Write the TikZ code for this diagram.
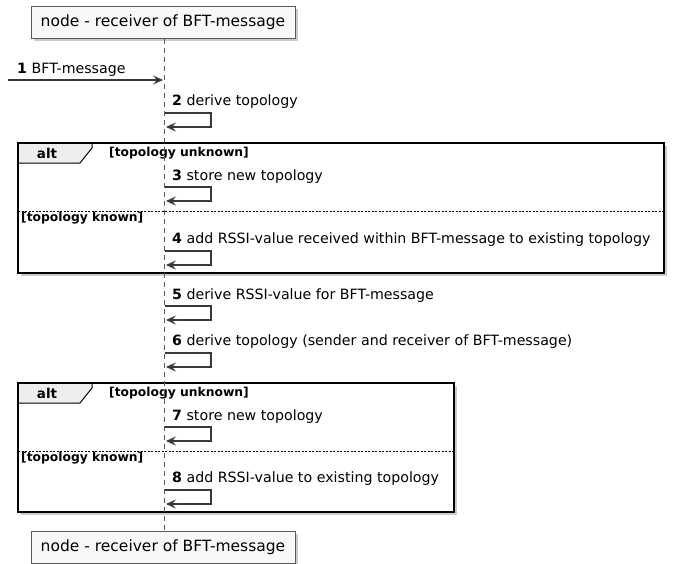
\documentclass[tikz,border=0pt]{standalone}
\usepackage{fontspec}
\setmainfont{DejaVu Sans}
\usetikzlibrary{arrows.meta,shadows}
\definecolor{arrowgray}{HTML}{383838}
\definecolor{boxgray}{HTML}{5A5A5A}
\definecolor{boxfill}{HTML}{F8F8F8}
\definecolor{tabfill}{HTML}{EEEEEE}
\begin{document}
\begin{tikzpicture}[x=1pt,y=-1pt,
  partbox/.style={draw=boxgray, fill=boxfill, line width=1pt, minimum width=264pt, minimum height=32pt, inner sep=0pt,
    font=\fontsize{15.5}{17}\selectfont,
    drop shadow={shadow xshift=3pt, shadow yshift=-3pt, fill=black!40, opacity=0.5}},
  frameback/.style={fill=white,
    drop shadow={shadow xshift=3pt, shadow yshift=-3pt, fill=black!40, opacity=0.5}},
  frameline/.style={draw=black, line width=1.6pt},
  tabbox/.style={draw=black, line width=1pt, fill=tabfill},
  sepline/.style={draw=black, line width=0.6pt, dash pattern=on 2pt off 1.5pt},
  lifeline/.style={draw=boxgray, line width=0.8pt, dash pattern=on 5pt off 4pt},
  msg/.style={draw=arrowgray, line width=1.1pt, -{Stealth[length=10pt,width=9pt,inset=4pt]}},
  lbl/.style={anchor=west, inner sep=0pt, font=\fontsize{14.2}{16}\selectfont},
  grp/.style={anchor=west, inner sep=0pt, font=\bfseries\fontsize{12.3}{14}\selectfont},
  altlbl/.style={inner sep=0pt, font=\bfseries\fontsize{13.5}{15}\selectfont}
]
\useasboundingbox (0,0) rectangle (678,563);

% participants
\node[partbox] (top) at (163,22) {node - receiver of BFT-message};
\node[partbox] (bot) at (163,547) {node - receiver of BFT-message};

% frame 1
\path[frameback] (18,143) rectangle (664,273);
\path[tabbox] (18,143) -- (92,143) -- (92,148) -- (80,163) -- (18,163) -- cycle;
\draw[frameline] (18,143) rectangle (664,273);
\node[altlbl] (alt1) at (47,153) {alt};
\node[grp] (g1u) at (109,153) {[topology unknown]};
\coordinate (s1l) at (18,211);
\coordinate (s1r) at (664,211);
\draw[sepline] (s1l) -- (s1r);
\node[grp] (g1k) at (21,218.5) {[topology known]};

% frame 2
\path[frameback] (18,383) rectangle (454,512);
\path[tabbox] (18,383) -- (92,383) -- (92,388) -- (80,403) -- (18,403) -- cycle;
\draw[frameline] (18,383) rectangle (454,512);
\node[altlbl] (alt2) at (47,393) {alt};
\node[grp] (g2u) at (109,393) {[topology unknown]};
\coordinate (s2l) at (18,451);
\coordinate (s2r) at (454,451);
\draw[sepline] (s2l) -- (s2r);
\node[grp] (g2k) at (21,458.5) {[topology known]};

% lifeline
\draw[lifeline] (top.south -| 164,0) -- (bot.north -| 164,0);

% message 1
\coordinate (src) at (8,80);
\coordinate (m1) at (163,80);
\draw[msg] (src) -- (m1);
\node[lbl] (l1) at (17,70) {\textbf{1} BFT-message};

% self messages
\node[lbl] (l2) at (172,102) {\textbf{2} derive topology};
\coordinate (a2) at (165,113); \coordinate (b2) at (166,127);
\draw[msg] (a2) -- (211,113) |- (b2);

\node[lbl] (l3) at (172,177) {\textbf{3} store new topology};
\coordinate (a3) at (165,187); \coordinate (b3) at (166,201);
\draw[msg] (a3) -- (211,187) |- (b3);

\node[lbl] (l4) at (172,240) {\textbf{4} add RSSI-value received within BFT-message to existing topology};
\coordinate (a4) at (165,251); \coordinate (b4) at (166,265);
\draw[msg] (a4) -- (211,251) |- (b4);

\node[lbl] (l5) at (172,296) {\textbf{5} derive RSSI-value for BFT-message};
\coordinate (a5) at (165,306); \coordinate (b5) at (166,320);
\draw[msg] (a5) -- (211,306) |- (b5);

\node[lbl] (l6) at (172,342) {\textbf{6} derive topology (sender and receiver of BFT-message)};
\coordinate (a6) at (165,353); \coordinate (b6) at (166,367);
\draw[msg] (a6) -- (211,353) |- (b6);

\node[lbl] (l7) at (172,417) {\textbf{7} store new topology};
\coordinate (a7) at (165,427); \coordinate (b7) at (166,441);
\draw[msg] (a7) -- (211,427) |- (b7);

\node[lbl] (l8) at (172,479) {\textbf{8} add RSSI-value to existing topology};
\coordinate (a8) at (165,490); \coordinate (b8) at (166,504);
\draw[msg] (a8) -- (211,490) |- (b8);
\end{tikzpicture}
\end{document}
